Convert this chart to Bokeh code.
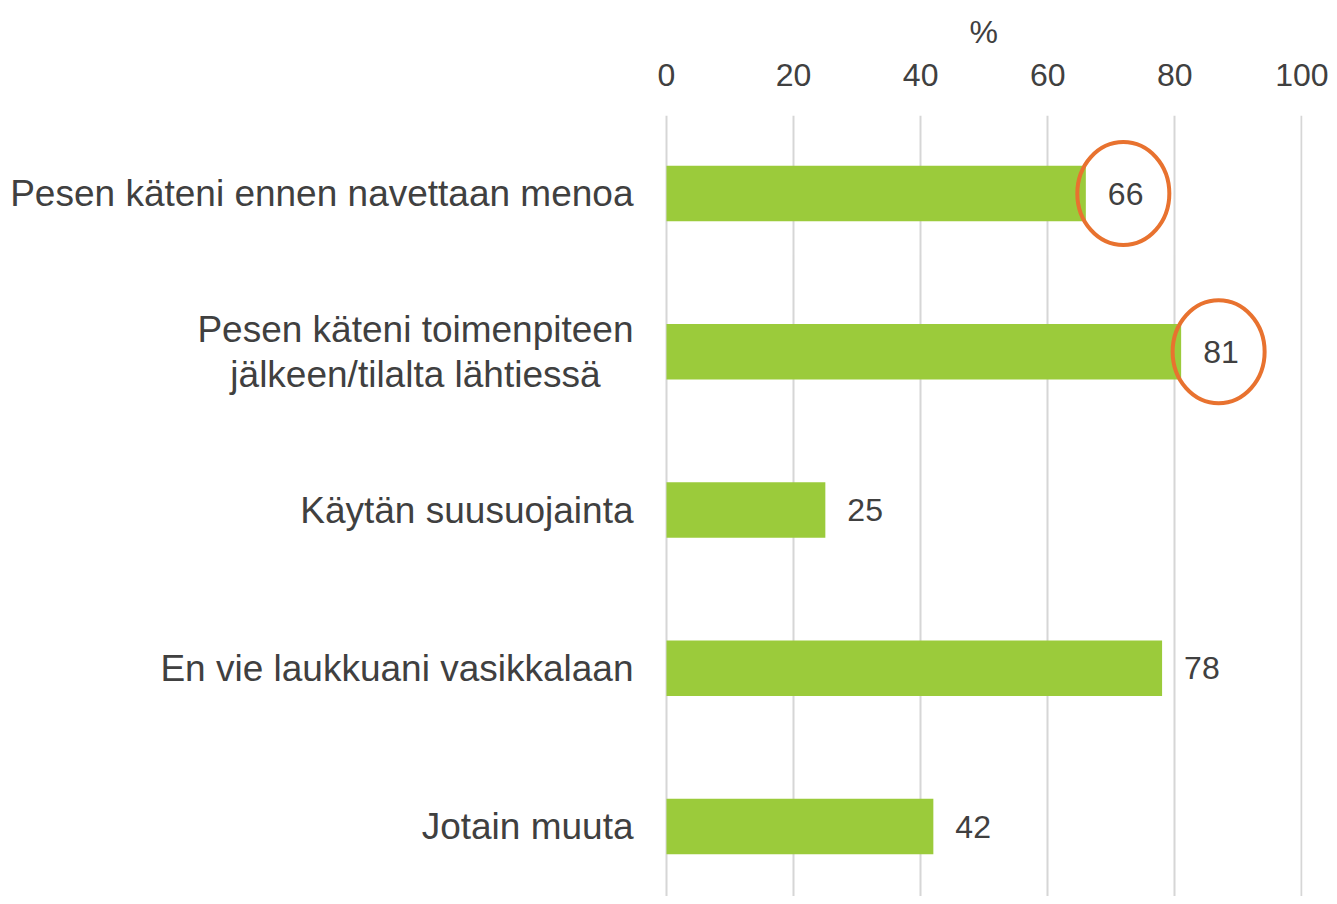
from bokeh.plotting import figure
from bokeh.models import Range1d, FixedTicker, ColumnDataSource
from bokeh.core.properties import value
from bokeh.embed import file_html
from bokeh.resources import INLINE

categories = [
    "Pesen käteni ennen navettaan menoa",
    "Pesen käteni toimenpiteen\njälkeen/tilalta lähtiessä",
    "Käytän suusuojainta",
    "En vie laukkuani vasikkalaan",
    "Jotain muuta",
]
values = [66, 81, 25, 78, 42]
highlighted = [True, True, False, False, False]
x_ticks = [0, 20, 40, 60, 80, 100]
unit_label = "%"

FONT = "Liberation Sans"
TXT = "#404040"

ypos = list(range(len(categories)))

# frame spans the whole canvas width so that category labels (drawn as text
# glyphs left of 0) are not clipped; 0 lands at x=666 px, 100 at x=1302 px
p = figure(width=1330, height=896, output_backend="svg", toolbar_location=None,
           x_range=Range1d(-104.82, 100.1), y_range=Range1d(4.442, -0.493),
           x_axis_location="above", min_border_left=0, min_border_right=28,
           min_border_top=115, min_border_bottom=0, title=unit_label)
p.outline_line_color = None
p.background_fill_color = "white"
p.border_fill_color = "white"

p.title.align = "left"
p.title.offset = 969
p.title.text_font = FONT
p.title.text_font_size = "32px"
p.title.text_font_style = "normal"
p.title.text_color = TXT
p.title.standoff = 21

src = ColumnDataSource(dict(y=ypos, v=values, lab=[str(v) for v in values],
                            cat=categories, zero=[0] * len(values)))
p.hbar(y="y", left=0, right="v", height=0.35, source=src,
       fill_color="#9BCB3B", line_color=None)
p.text(x="v", y="y", text="lab", source=src, x_offset=22,
       text_font=value(FONT), text_font_size="32px", text_color=TXT,
       text_baseline="middle", text_align="left")
p.text(x="zero", y="y", text="cat", source=src, x_offset=-33,
       anchor=value("center_right"), text_align="center",
       text_font=value(FONT), text_font_size="37px", text_color=TXT,
       text_baseline="middle", text_line_height=1.1)

hx = [v + 5.9 for v, h in zip(values, highlighted) if h]
hy = [y for y, h in zip(ypos, highlighted) if h]
p.ellipse(x=hx, y=hy, width=92, height=103, width_units="screen",
          height_units="screen", fill_color=None, line_color="#E8722F",
          line_width=4)

xa = p.xaxis[0]
xa.ticker = FixedTicker(ticks=x_ticks)
xa.axis_line_color = None
xa.major_tick_line_color = None
xa.minor_tick_line_color = None
xa.major_label_text_font = FONT
xa.major_label_text_font_size = "32px"
xa.major_label_text_color = TXT
xa.major_label_standoff = 24

p.yaxis.visible = False

p.xgrid.ticker = FixedTicker(ticks=x_ticks)
p.xgrid.grid_line_color = "#d6d6d6"
p.xgrid.grid_line_width = 2
p.ygrid.grid_line_color = None

open("out.html", "w").write(file_html(p, INLINE))
